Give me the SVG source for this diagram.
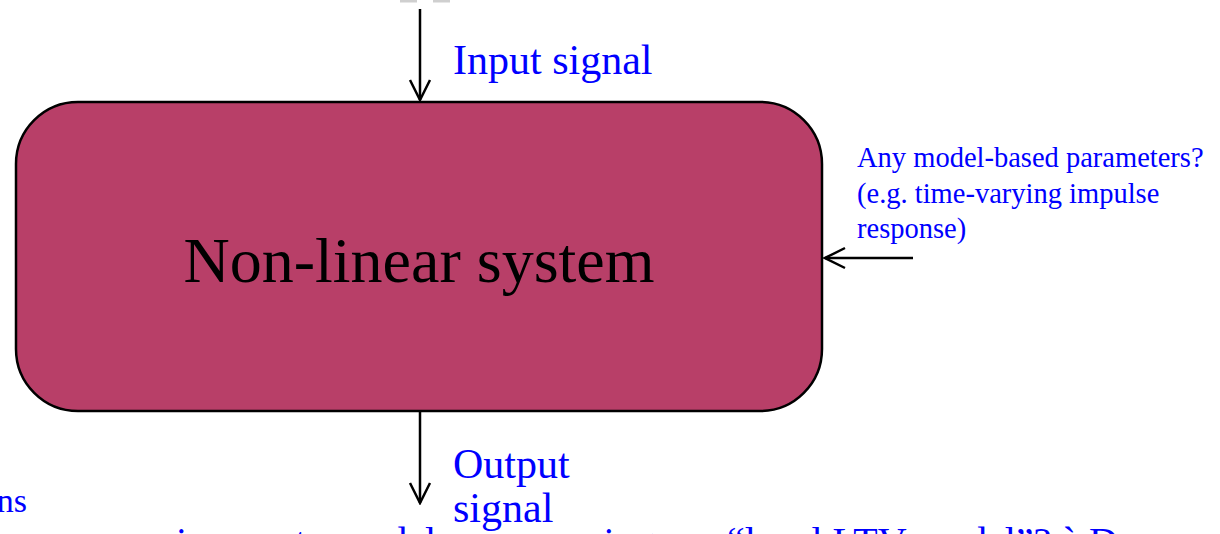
<svg xmlns="http://www.w3.org/2000/svg" width="1220" height="534" viewBox="0 0 1220 534">
  <style>
    .serif { font-family: "Liberation Serif", "Times New Roman", serif; }
    .label { fill: #0000ff; font-size: 42px; }
    .note { fill: #0000ff; font-size: 28.5px; }
    .wire { stroke: #000; stroke-width: 2.5; fill: none; }
  </style>
  <defs>
    <marker id="open-arrow" viewBox="0 0 24 24" refX="22" refY="12" markerWidth="24" markerHeight="24" markerUnits="userSpaceOnUse" orient="auto">
      <path d="M2,2 L22,12 L2,22" fill="none" stroke="#000" stroke-width="2.5"/>
    </marker>
  </defs>

  <rect width="1220" height="534" fill="#ffffff"/>

  <!-- remnants of shapes above the frame -->
  <rect x="400" y="0" width="17" height="2.5" fill="#cfcfcf"/>
  <rect x="433" y="0" width="17" height="2.5" fill="#cfcfcf"/>

  <!-- system block -->
  <g id="system">
    <rect x="16" y="102" width="806" height="309" rx="62" ry="62" fill="#b83f68" stroke="#000" stroke-width="2.5"/>
    <text class="serif" x="419" y="282" font-size="64" text-anchor="middle" fill="#000">Non-linear system</text>
  </g>

  <!-- connectors -->
  <g id="connectors">
    <line class="wire" x1="420" y1="9" x2="420" y2="100" marker-end="url(#open-arrow)"/>
    <line class="wire" x1="420" y1="412" x2="420" y2="503" marker-end="url(#open-arrow)"/>
    <line class="wire" x1="913" y1="258" x2="825" y2="258" marker-end="url(#open-arrow)"/>
  </g>

  <g id="input-label">
    <text class="serif label" x="453" y="74">Input signal</text>
  </g>

  <g id="output-label">
    <text class="serif label" x="453" y="478">Output</text>
    <text class="serif label" x="453" y="522">signal</text>
  </g>

  <g id="parameter-note">
    <text class="serif note" x="857" y="167">Any model-based parameters?</text>
    <text class="serif note" x="857" y="203">(e.g. time-varying impulse</text>
    <text class="serif note" x="857" y="238">response)</text>
  </g>

  <!-- text running off the left and bottom edges -->
  <text class="serif" x="27" y="512" font-size="34" fill="#0000ff" text-anchor="end">ns</text>
  <text class="serif" y="555" font-size="40" fill="#0000ff">
    <tspan x="176">is a</tspan>
    <tspan x="295">to model</tspan>
    <tspan x="568">using</tspan>
    <tspan x="727">“local LTV model”? à De</tspan>
  </text>
</svg>
